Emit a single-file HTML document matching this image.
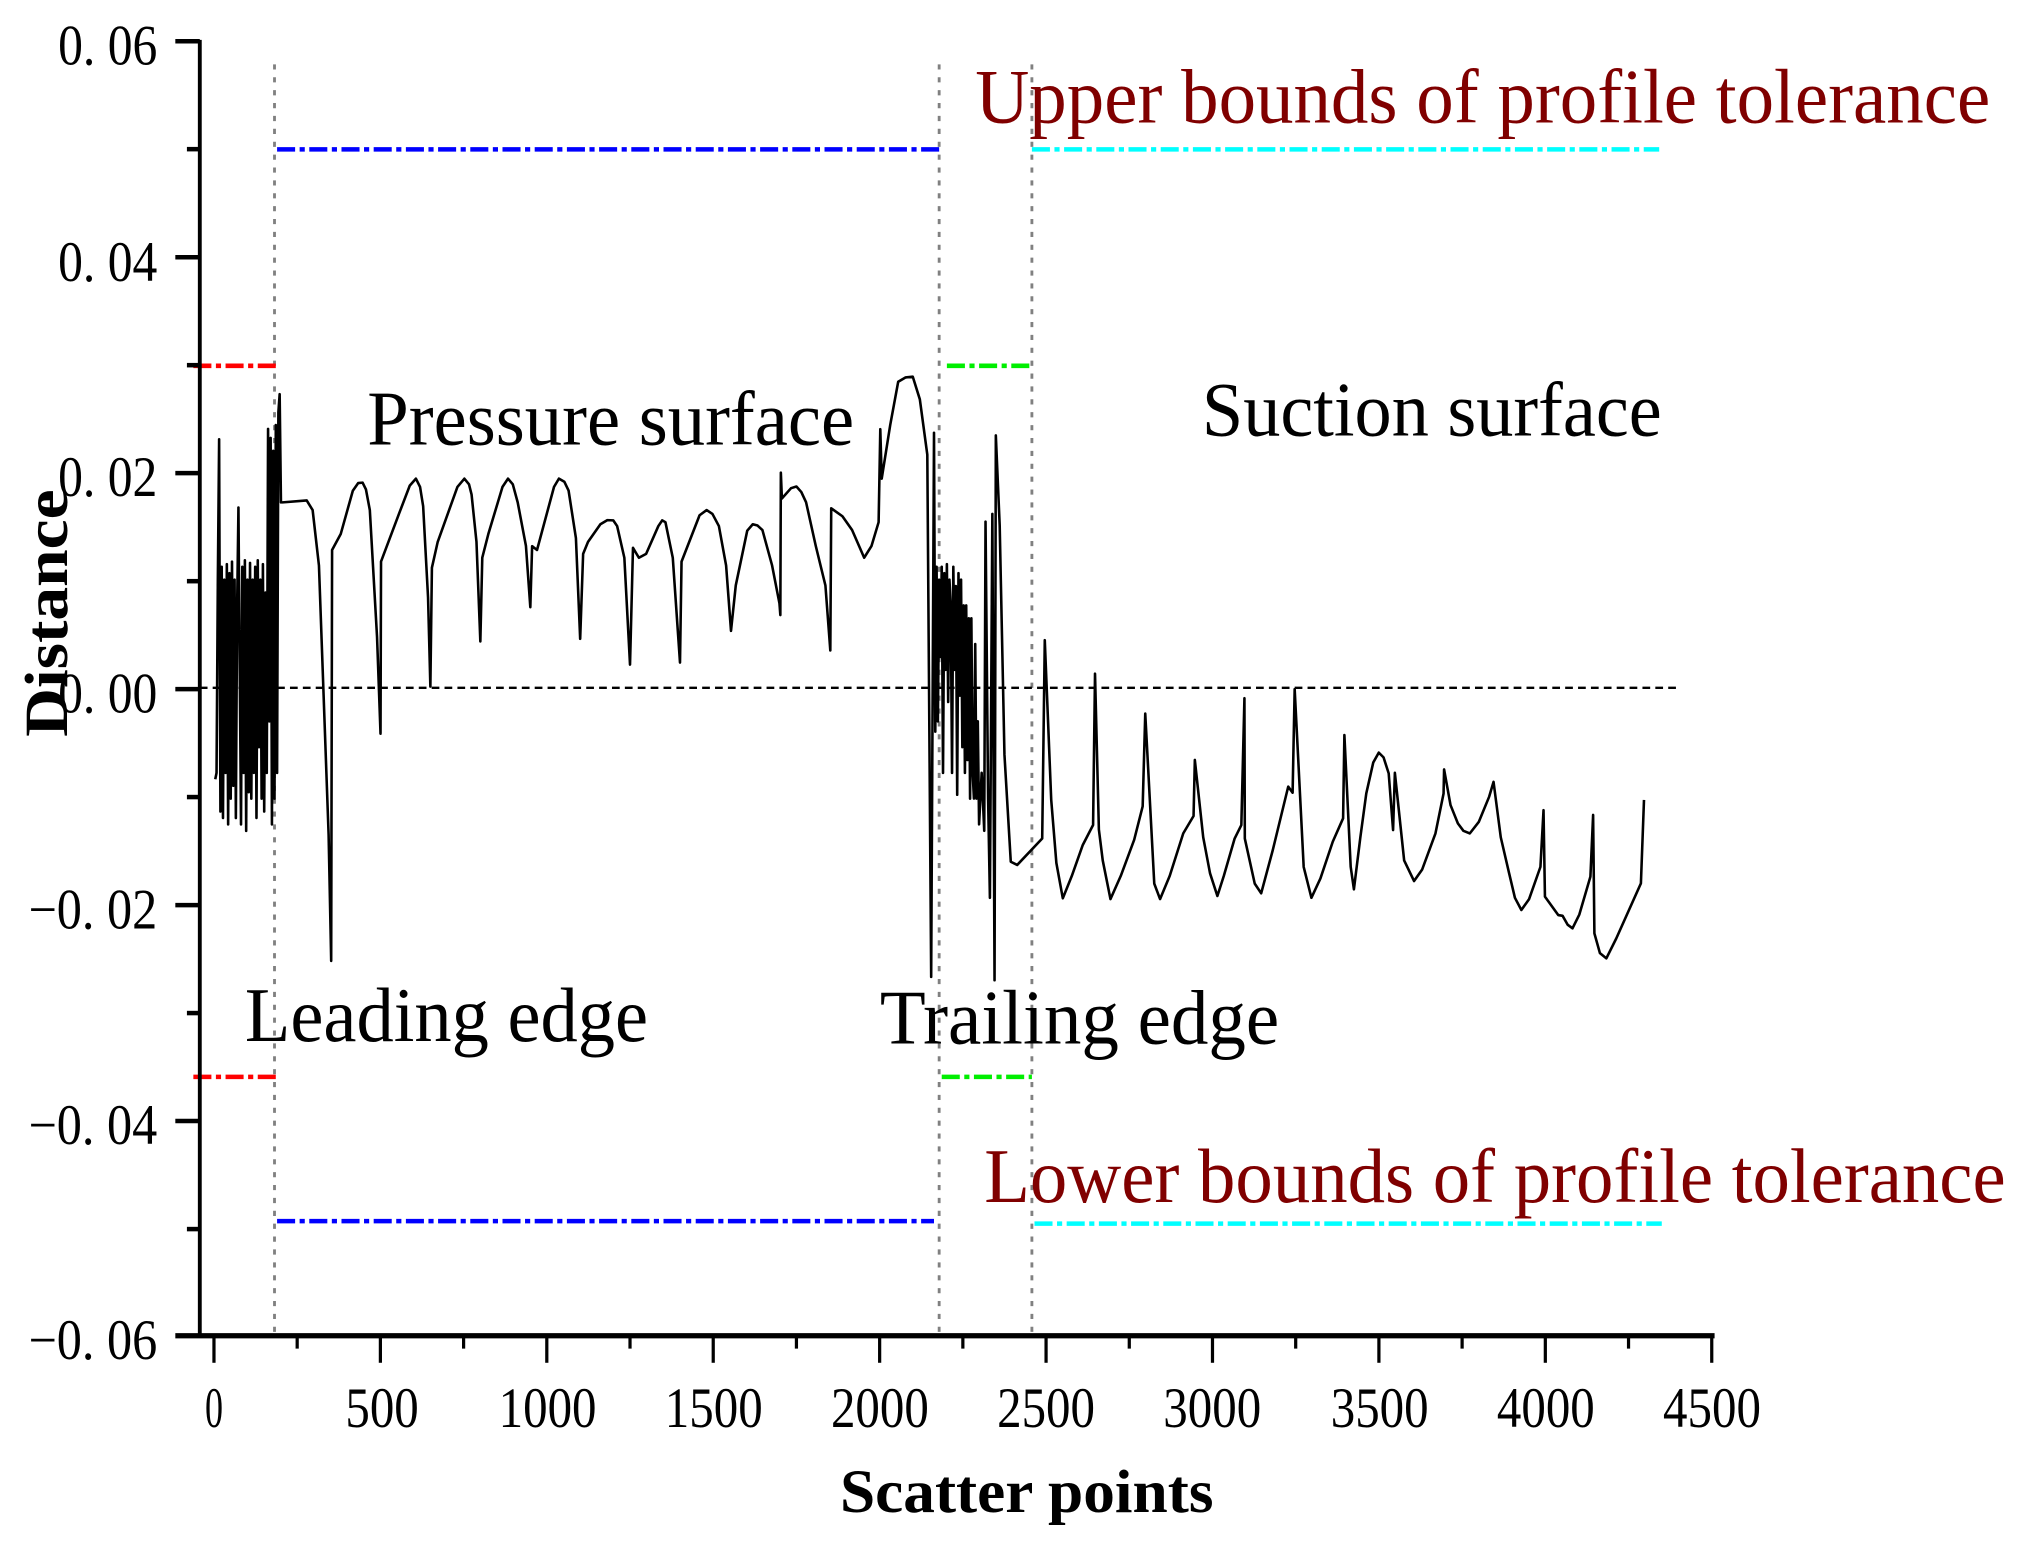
<!DOCTYPE html>
<html><head><style>html,body{margin:0;padding:0;background:#fff;}svg{display:block;}</style></head>
<body>
<svg width="2020" height="1556" viewBox="0 0 1568 1208" xmlns="http://www.w3.org/2000/svg" font-family="'Liberation Serif', serif">
<rect width="1568" height="1208" fill="#fff"/>
<g stroke="#808080" stroke-width="2.2" stroke-dasharray="4,6">
<line x1="213" y1="50" x2="213" y2="1035"/>
<line x1="729" y1="50" x2="729" y2="1035"/>
<line x1="801" y1="50" x2="801" y2="1035"/>
</g>
<line x1="155" y1="534" x2="1302" y2="534" stroke="#000" stroke-width="1.8" stroke-dasharray="6,4"/>
<g stroke-width="3.5" stroke-dasharray="14,3.5,4,3.5" fill="none">
<line x1="215" y1="116" x2="729" y2="116" stroke="#0000ff"/>
<line x1="215" y1="948" x2="725" y2="948" stroke="#0000ff"/>
<line x1="150" y1="284" x2="215" y2="284" stroke="#ff0000"/>
<line x1="150" y1="836" x2="215" y2="836" stroke="#ff0000"/>
<line x1="735" y1="284" x2="801" y2="284" stroke="#00ee00"/>
<line x1="731" y1="836" x2="801" y2="836" stroke="#00ee00"/>
<line x1="801" y1="116" x2="1288" y2="116" stroke="#00ffff"/>
<line x1="803" y1="950" x2="1290" y2="950" stroke="#00ffff"/>
</g>
<polyline fill="none" stroke="#000" stroke-width="2" stroke-linejoin="round" points="
167,605 168,600 169,450 170,341 171,630 172,440 173,635 174,450 175,600 176,438 177,640 178,445 179,620 180,436 181,610 182,450 183,635 184,470 185,394 186,520 187,640 188,440 189,600 190,435 191,645 192,450 193,615 194,437 195,620 196,450 197,600 198,440 199,635 200,435 201,580 202,450 203,620 204,438 205,630 206,460 207,600 208,333 209,560 210,340 211,640 212,350 213,620 214,330 215,600 216,320 217,306 218,390
219.3,390 238,388.5 242.6,396 247.5,439 255,648 257,746 257.7,427 264.4,414.6 273.8,381 278,375 281.4,374.7 284,380 287,396 292.6,494.4 295.3,569.6 295.7,436 309.6,399 318,377 322.8,371.6 326,378 328.4,393 332.2,463.7 334,533 335.2,440.7 339.7,420.7 355,378 360.4,371.6 364,376 366,384 369.8,420.7 372.8,498 374.3,433 379,414.6 390,378 394.3,371.6 398,376 401.8,390 408.2,423.8 411.6,471.4 413,424 416.8,427 430,378 433.8,371.6 438,374 441.3,380.8 447,417.7 450.3,496 452.6,430 456.4,420.7 466,407 471.4,403.8 476,404 479,408.4 484.6,433 489,516 491.3,425.3 495.9,433 501.5,430 511,408.4 514,404 516.5,405.4 522.2,433 527.8,514.4 529,436 543,400 548.5,396 553,399 558,408.4 563.6,439 567.4,489.8 571.1,454.5 580,412 584.3,407 588,408 591.8,411.5 599.3,439 605,468.3 605.7,477.5 606.1,367 606.9,387 614,379 618.2,377.7 622,382 625.7,390 633.2,423.8 640.7,454.5 644.5,505 645.2,394.6 650,398 653.9,400.8 661.4,411.5 670.8,433 676.5,423.8 682,405.4 683.3,333.2 684.4,371.6 691,330 697.2,296.4 703,293 708.5,292.4 714,310 719.8,353 722.8,758.4
725,336 726,568 727,440 728,560 729,450 730,510 731,440 732,600 733,445 734,520 735,438 736,545 737,450 738,470 739,600 740,440 741,520 742,455 743,617 744,445 745,540 746,450 747,580 748,470 749,600 750,470 751,590 752,480 753,620 754,480 755,600 756,620 757,500 758,620 759,560 760,640 762,600 764,645 765,405 767,620 768.4,697 770.3,399 772,761 773,338 776,408 779.7,586 784.6,669
789.6,671.5 809,651 811,497 816,621 820,670 825,697.4 832,680 840.5,656 848.5,640.5 850,523 853,644 856,668 862,698 870,680 880.4,652 887,626 889,554 896,686 900.5,698 908,680 918.5,647 926.5,633.5 927.5,590 934,650 939.3,678 945,695.6 950,680 958.4,651 963.6,640.5 966,542 966.3,651 974,686 979,693.5 988,660 1000,610.7 1003.4,615.4 1005,535 1012,673 1018,697 1025,682 1034.6,653.4 1042.6,635.3 1043.6,570.6 1048.5,673 1051,690.4 1056,650 1060.6,616 1066,592 1070.3,584.3 1074,588 1078,600.4 1081.4,644.4 1082.8,600 1090,668 1097.7,684 1104,675 1114.3,647 1120.6,616 1121,597.3 1126,625 1131.7,639.2 1136,645 1141,647 1148,638 1156,618.5 1159.4,607 1165,650 1171.5,678 1176,697 1181,706.5 1187,698 1195.8,673 1198.2,629 1199.3,696.1 1209.6,710.4 1213,711 1217,718 1220.7,720.7 1226,710 1234.6,680.6 1236.7,632.7 1237.7,724.6 1242,740 1247,744 1254.7,728.5 1273.8,685.8 1276.2,621"/>
<line x1="155" y1="31" x2="155" y2="1037" stroke="#000" stroke-width="3"/>
<line x1="136" y1="1037" x2="1331" y2="1037" stroke="#000" stroke-width="4"/>
<g stroke="#000" stroke-width="3.5">
<line x1="136" y1="32" x2="155" y2="32"/><line x1="136" y1="199.7" x2="155" y2="199.7"/><line x1="136" y1="367.3" x2="155" y2="367.3"/><line x1="136" y1="535" x2="155" y2="535"/><line x1="136" y1="702.7" x2="155" y2="702.7"/><line x1="136" y1="870.3" x2="155" y2="870.3"/>
<line x1="145" y1="115.8" x2="155" y2="115.8"/><line x1="145" y1="283.5" x2="155" y2="283.5"/><line x1="145" y1="451.2" x2="155" y2="451.2"/><line x1="145" y1="618.8" x2="155" y2="618.8"/><line x1="145" y1="786.5" x2="155" y2="786.5"/><line x1="145" y1="954.2" x2="155" y2="954.2"/>
</g>
<g stroke="#000" stroke-width="2.5">
<line x1="166" y1="1037" x2="166" y2="1058"/><line x1="295.2" y1="1037" x2="295.2" y2="1058"/><line x1="424.4" y1="1037" x2="424.4" y2="1058"/><line x1="553.6" y1="1037" x2="553.6" y2="1058"/><line x1="682.8" y1="1037" x2="682.8" y2="1058"/><line x1="812" y1="1037" x2="812" y2="1058"/><line x1="941.2" y1="1037" x2="941.2" y2="1058"/><line x1="1070.4" y1="1037" x2="1070.4" y2="1058"/><line x1="1199.6" y1="1037" x2="1199.6" y2="1058"/><line x1="1328.8" y1="1037" x2="1328.8" y2="1058"/>
<line x1="230.6" y1="1037" x2="230.6" y2="1047"/><line x1="359.8" y1="1037" x2="359.8" y2="1047"/><line x1="489" y1="1037" x2="489" y2="1047"/><line x1="618.2" y1="1037" x2="618.2" y2="1047"/><line x1="747.4" y1="1037" x2="747.4" y2="1047"/><line x1="876.6" y1="1037" x2="876.6" y2="1047"/><line x1="1005.8" y1="1037" x2="1005.8" y2="1047"/><line x1="1135" y1="1037" x2="1135" y2="1047"/><line x1="1264.2" y1="1037" x2="1264.2" y2="1047"/>
</g>
<g font-size="44" fill="#000" lengthAdjust="spacingAndGlyphs">
<text x="45" y="50" textLength="77" lengthAdjust="spacingAndGlyphs">0. 06</text>
<text x="45" y="218" textLength="77" lengthAdjust="spacingAndGlyphs">0. 04</text>
<text x="45" y="385" textLength="77" lengthAdjust="spacingAndGlyphs">0. 02</text>
<text x="45" y="553" textLength="77" lengthAdjust="spacingAndGlyphs">0. 00</text>
<text x="22" y="721" textLength="100" lengthAdjust="spacingAndGlyphs">−0. 02</text>
<text x="22" y="888" textLength="100" lengthAdjust="spacingAndGlyphs">−0. 04</text>
<text x="22" y="1055" textLength="100" lengthAdjust="spacingAndGlyphs">−0. 06</text>
</g>
<g font-size="44" fill="#000">
<text x="159" y="1108" textLength="14" lengthAdjust="spacingAndGlyphs">0</text>
<text x="268" y="1108" textLength="57" lengthAdjust="spacingAndGlyphs">500</text>
<text x="387" y="1108" textLength="76" lengthAdjust="spacingAndGlyphs">1000</text>
<text x="516" y="1108" textLength="76" lengthAdjust="spacingAndGlyphs">1500</text>
<text x="645" y="1108" textLength="76" lengthAdjust="spacingAndGlyphs">2000</text>
<text x="774" y="1108" textLength="76" lengthAdjust="spacingAndGlyphs">2500</text>
<text x="903" y="1108" textLength="76" lengthAdjust="spacingAndGlyphs">3000</text>
<text x="1033" y="1108" textLength="76" lengthAdjust="spacingAndGlyphs">3500</text>
<text x="1162" y="1108" textLength="76" lengthAdjust="spacingAndGlyphs">4000</text>
<text x="1291" y="1108" textLength="76" lengthAdjust="spacingAndGlyphs">4500</text>
</g>
<text x="652" y="1174" font-size="48" font-weight="bold" textLength="290" lengthAdjust="spacingAndGlyphs">Scatter points</text>
<text transform="translate(52,476) rotate(-90)" text-anchor="middle" font-size="48" font-weight="bold" textLength="192" lengthAdjust="spacingAndGlyphs">Distance</text>
<g font-size="60">
<text x="757" y="95" fill="#800000" textLength="788" lengthAdjust="spacingAndGlyphs">Upper bounds of profile tolerance</text>
<text x="764" y="933" fill="#800000" textLength="793" lengthAdjust="spacingAndGlyphs">Lower bounds of profile tolerance</text>
<text x="285" y="345" fill="#000" textLength="378" lengthAdjust="spacingAndGlyphs">Pressure surface</text>
<text x="933" y="338" fill="#000" textLength="357" lengthAdjust="spacingAndGlyphs">Suction surface</text>
<text x="190" y="808" fill="#000" textLength="313" lengthAdjust="spacingAndGlyphs">Leading edge</text>
<text x="683" y="810" fill="#000" textLength="310" lengthAdjust="spacingAndGlyphs">Trailing edge</text>
</g>
</svg>
</body></html>
